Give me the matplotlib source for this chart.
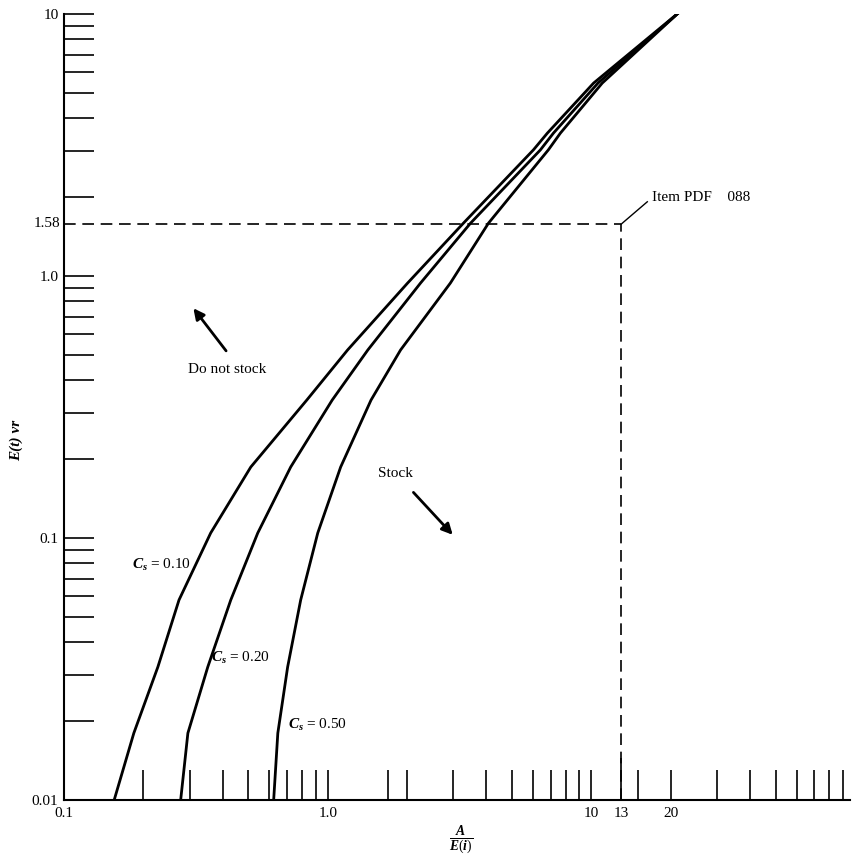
import matplotlib
matplotlib.use('Agg')
import matplotlib.pyplot as plt
from matplotlib.ticker import FixedLocator, NullFormatter

plt.rcParams['font.family'] = ['Liberation Serif', 'DejaVu Serif']
plt.rcParams['mathtext.fontset'] = 'custom'
plt.rcParams['mathtext.it'] = 'Liberation Serif:italic:bold'
plt.rcParams['mathtext.rm'] = 'Liberation Serif'
plt.rcParams['mathtext.bf'] = 'Liberation Serif:bold'

# curves: A/E(i) (x) against E(t) yr (y)
y_vals = [0.01, 0.018, 0.0322, 0.058, 0.1045, 0.1866, 0.336,
          0.522, 0.94, 1.59, 3.03, 3.51, 5.45, 10.1]
x_cs10 = [0.155, 0.184, 0.227, 0.273, 0.36, 0.511, 0.833,
          1.19, 2.01, 3.27, 6.03, 6.81, 10.2, 21.4]
x_cs20 = [0.277, 0.295, 0.351, 0.429, 0.543, 0.724, 1.04,
          1.42, 2.25, 3.48, 6.41, 7.18, 10.6, 21.4]
x_cs50 = [0.624, 0.647, 0.705, 0.79, 0.917, 1.12, 1.46,
          1.89, 2.92, 4.07, 6.87, 7.63, 11.0, 21.4]

item_x = 13
item_y = 1.58

x_major = [0.1, 1, 10, 13, 20]
x_major_labels = ['0.1', '1.0', '10', '13', '20']
x_minor = [0.2, 0.3, 0.4, 0.5, 0.6, 0.7, 0.8, 0.9, 1.7, 2, 3, 4, 5, 6, 7, 8, 9,
           15, 30, 40, 50, 60, 70, 80, 90]
y_major = [0.01, 0.1, 1, 10]
y_major_labels = ['0.01', '0.1', '1.0', '10']
y_minor = [m * d for d in (0.01, 0.1, 1) for m in range(2, 10)]

fig = plt.figure(figsize=(8.53, 8.58), dpi=100)
ax = fig.add_axes([64 / 853, 58 / 858, 786 / 853, 786 / 858])
ax.set_xscale('log')
ax.set_yscale('log')
ax.set_xlim(0.1, 95.7)
ax.set_ylim(0.01, 10)

for xs in (x_cs10, x_cs20, x_cs50):
    ax.plot(xs, y_vals, color='black', lw=2.0, solid_capstyle='round',
            solid_joinstyle='round')

ax.plot([0.1, item_x], [item_y, item_y], color='black', lw=1.2, dashes=(7, 4))
ax.plot([item_x, item_x], [0.01, item_y], color='black', lw=1.2, dashes=(7, 4))
ax.plot([item_x, 16.3], [item_y, 1.92], color='black', lw=1.0)
ax.text(17.0, 1.99, 'Item PDF    088', fontsize=11, va='center', ha='left')

ax.text(0.303, 0.0789, '$C_s$ = 0.10', fontsize=11, ha='right', va='center')
ax.text(0.36, 0.0348, '$C_s$ = 0.20', fontsize=11, ha='left', va='center')
ax.text(0.705, 0.0193, '$C_s$ = 0.50', fontsize=11, ha='left', va='center')

ax.annotate('', xy=(0.305, 0.768), xytext=(0.418, 0.508),
            arrowprops=dict(arrowstyle='-|>', color='black', lw=2.0,
                            mutation_scale=16))
ax.text(0.414, 0.438, 'Do not stock', fontsize=11, ha='center', va='center')
ax.annotate('', xy=(3.03, 0.101), xytext=(2.08, 0.152),
            arrowprops=dict(arrowstyle='-|>', color='black', lw=2.0,
                            mutation_scale=16))
ax.text(1.81, 0.177, 'Stock', fontsize=11, ha='center', va='center')

for s in ('top', 'right'):
    ax.spines[s].set_visible(False)
ax.spines['left'].set_linewidth(1.5)
ax.spines['bottom'].set_linewidth(1.5)

ax.xaxis.set_major_locator(FixedLocator(x_major))
ax.set_xticklabels(x_major_labels)
ax.xaxis.set_minor_locator(FixedLocator(x_minor))
ax.xaxis.set_minor_formatter(NullFormatter())
ax.yaxis.set_major_locator(FixedLocator(y_major))
ax.set_yticklabels(y_major_labels)
ax.yaxis.set_minor_locator(FixedLocator(y_minor))
ax.yaxis.set_minor_formatter(NullFormatter())

ax.tick_params(axis='both', which='both', direction='in', length=21.6,
               width=1.2, labelsize=11, color='black')
ax.tick_params(axis='x', which='major', pad=5)
ax.tick_params(axis='y', which='major', pad=4)
ax.xaxis.get_major_ticks()[3].tick1line.set_markersize(30)

ax.text(-0.005, item_y, '1.58', transform=ax.get_yaxis_transform(),
        fontsize=11, ha='right', va='center')

fig.text(461 / 853, 1 - 840 / 858, r'$\frac{A}{E(i)}$', fontsize=14,
         ha='center', va='center')
fig.text(16 / 853, 1 - 440 / 858, 'E(t) vr', fontsize=11, rotation=90,
         fontstyle='italic', fontweight='bold', ha='center', va='center')

fig.savefig('out.png', dpi=100)
